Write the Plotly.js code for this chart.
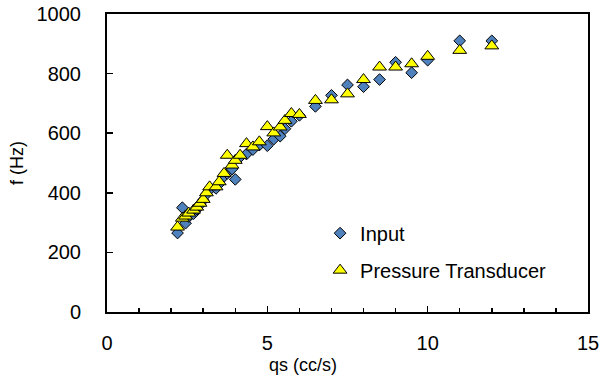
<!DOCTYPE html>
<html>
<head>
<meta charset="utf-8">
<script src="https://cdn.plot.ly/plotly-3.0.1.min.js"></script>
<style>html,body{margin:0;padding:0;background:#fff;}#chart{width:601px;height:376px;}</style>
</head>
<body>
<div id="chart"></div>
<script>
// qs (cc/s)
const qs = [2.2, 2.35, 2.45, 2.55, 2.7, 2.8, 2.9, 3.0, 3.1, 3.2, 3.4, 3.5, 3.65, 3.75, 3.9, 4.0, 4.15, 4.35, 4.55, 4.75, 5.0, 5.2, 5.4, 5.55, 5.75, 6.0, 6.5, 7.0, 7.5, 8.0, 8.5, 9.0, 9.5, 10.0, 11.0, 12.0];
// f (Hz) – Input
const fInput = [265, 350, 298, 320, 330, 345, 360, 375, 395, 410, 415, 430, 455, 465, 480, 445, 520, 530, 545, 560, 558, 580, 590, 615, 640, 660, 690, 727, 762, 756, 780, 838, 803, 845, 910, 910];
// f (Hz) – Pressure Transducer
const fPressure = [285, 315, 322, 332, 342, 352, 365, 378, 400, 420, 420, 437, 465, 526, 493, 509, 526, 565, 554, 571, 622, 601, 621, 643, 666, 663, 710, 712, 732, 780, 822, 822, 833, 858, 878, 893];

const xTickVals = [0, 5, 10, 15];
const yTickVals = [0, 200, 400, 600, 800, 1000];

const font = '"Liberation Sans", Arial, sans-serif';

const traces = [
  {
    x: qs, y: fInput, name: 'Input', type: 'scatter', mode: 'markers',
    legendgroup: 'a',
    marker: {symbol: 'diamond', size: 9, color: '#4F81BD', line: {color: '#000', width: 1}}
  },
  {
    x: qs, y: fPressure, name: 'Pressure Transducer', type: 'scatter', mode: 'markers',
    legendgroup: 'b',
    marker: {symbol: 'triangle-up', size: 12, color: '#FFFF00', line: {color: '#000', width: 1}}
  }
];

const layout = {
  width: 601, height: 376,
  margin: {l: 107, r: 13, t: 14, b: 64},
  paper_bgcolor: '#fff', plot_bgcolor: '#fff',
  font: {family: font, size: 19, color: '#000'},
  showlegend: true,
  legend: {
    x: 0.443, y: 0.33, xanchor: 'left', yanchor: 'top',
    bgcolor: 'rgba(0,0,0,0)', borderwidth: 0,
    font: {family: font, size: 20, color: '#000'},
    traceorder: 'grouped', tracegroupgap: 8
  },
  xaxis: {
    range: [0, 15], tickvals: xTickVals, ticktext: xTickVals.map(String),
    showgrid: false, zeroline: false,
    showline: true, linecolor: '#000', linewidth: 2, mirror: true,
    ticks: 'inside', ticklen: 6, tickwidth: 1.5, tickcolor: '#000',
    minor: {dtick: 1, ticks: 'inside', ticklen: 4, tickwidth: 1.5, tickcolor: '#000', showgrid: false},
    ticklabelstandoff: 12,
    tickfont: {family: font, size: 20, color: '#000'}
  },
  yaxis: {
    range: [0, 1000], tickvals: yTickVals, ticktext: yTickVals.map(String),
    showgrid: false, zeroline: false,
    showline: true, linecolor: '#000', linewidth: 2, mirror: true,
    ticks: 'inside', ticklen: 6, tickwidth: 1.5, tickcolor: '#000',
    ticklabelstandoff: 20,
    tickfont: {family: font, size: 20, color: '#000'}
  },
  annotations: [
    {text: 'qs (cc/s)', xref: 'paper', yref: 'paper', x: (303 - 107) / 481, y: -0.137,
     xanchor: 'center', yanchor: 'top', showarrow: false,
     font: {family: font, size: 18, color: '#000'}},
    {text: 'f (Hz)', xref: 'paper', yref: 'paper', x: (17 - 107) / 481, y: 0.5,
     xanchor: 'center', yanchor: 'middle', textangle: -90, showarrow: false,
     font: {family: font, size: 18, color: '#000'}}
  ]
};

Plotly.newPlot('chart', traces, layout, {displayModeBar: false, staticPlot: true});
</script>
</body>
</html>
